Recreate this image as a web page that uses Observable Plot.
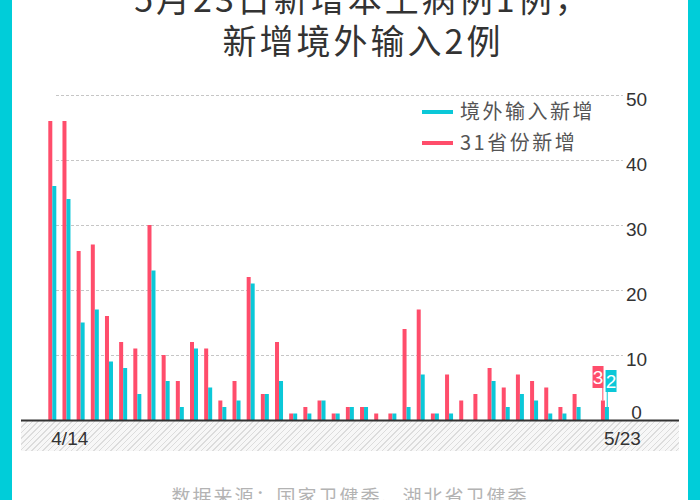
<!DOCTYPE html>
<html>
<head>
<meta charset="utf-8">
<script src="https://cdn.jsdelivr.net/npm/d3@7"></script>
<script src="https://cdn.jsdelivr.net/npm/@observablehq/plot@0.6"></script>
<style>
  body { margin: 0; background: #fff; }
  #page { position: relative; width: 700px; height: 500px; overflow: hidden; background: #fff;
          font-family: "Noto Sans CJK SC", "Noto Sans", sans-serif; }
  .side { position: absolute; top: 0; width: 12px; height: 500px; background: #00cdd9; z-index: 5; }
  #title { margin-top: -23px; text-align: center; font-size: 34px; line-height: 41.5px; color: #333;
           letter-spacing: 3px; padding-left: 26px; }
  #chart { position: relative; width: 700px; height: 400px; }
  #hatch { position: absolute; left: 21px; top: 361px; width: 658px; height: 30px;
           background: repeating-linear-gradient(135deg, #dcdcdc 0 1px, #f7f7f7 1px 4px); }
  #chart svg { position: relative; display: block; }
  .legend-sw { position: absolute; left: 422px; width: 31px; height: 4px; }
  .legend-tx { position: absolute; left: 460px; font-size: 20px; line-height: 20px; color: #555; letter-spacing: 2.5px; white-space: nowrap; }
  #caption { margin-top: 26px; text-align: center; font-size: 19px; line-height: 19px; color: #b3b3b3; letter-spacing: 2px; }
</style>
</head>
<body>
<div id="page">
  <div class="side" style="left:0"></div>
  <div class="side" style="right:0"></div>
  <div id="title"><div>5月23日新增本土病例1例，</div><div>新增境外输入2例</div></div>
  <div id="chart"><div id="hatch"></div></div>
  <div id="caption">数据来源：国家卫健委、湖北省卫健委</div>
  <div id="legend"></div>
</div>
<script>
// ---- data ----
const dates = ["4/14","4/15","4/16","4/17","4/18","4/19","4/20","4/21","4/22","4/23",
               "4/24","4/25","4/26","4/27","4/28","4/29","4/30","5/1","5/2","5/3",
               "5/4","5/5","5/6","5/7","5/8","5/9","5/10","5/11","5/12","5/13",
               "5/14","5/15","5/16","5/17","5/18","5/19","5/20","5/21","5/22","5/23"];
const totalNew = [46,46,26,27,16,12,11,30,10,6,
                  12,11,3,6,22,4,12,1,2,3,
                  1,2,2,1,1,14,17,1,7,3,
                  4,8,5,7,6,5,2,4,0,3];
const importedNew = [36,34,15,17,9,8,4,23,6,2,
                     11,5,2,3,21,4,6,1,1,3,
                     1,2,2,0,1,2,7,1,1,0,
                     0,6,2,4,3,1,1,2,0,2];
const seriesNames = ["境外输入新增", "31省份新增"];
const seriesColors = ["#0bc8d8", "#ff4d6b"];
const yTicks = [0, 10, 20, 30, 40, 50];
const xTickLabels = ["4/14", "5/23"];

const CYAN = seriesColors[0], RED = seriesColors[1];
const rows = dates.map((d, i) => ({date: d, total: totalNew[i], imported: importedNew[i]}));
const last = rows.slice(-1);
const numFont = "Liberation Sans, Noto Sans CJK SC, sans-serif";

const chart = Plot.plot({
  width: 700,
  height: 400,
  marginTop: 35,
  marginBottom: 40,
  marginLeft: 21,
  marginRight: 21,
  style: {background: "transparent", overflow: "visible", fontFamily: numFont},
  x: {type: "band", domain: dates, range: [42.13, 615.1], padding: 0.4354, round: false, axis: null},
  y: {domain: [0, 50], axis: null},
  marks: [
    Plot.ruleY(yTicks.filter(d => d > 0), {
      y: d => d, x1: () => dates[0], x2: () => dates[dates.length - 1],
      stroke: "#c6c6c6", strokeWidth: 1, strokeDasharray: "3,2", insetLeft: 7.7, insetRight: -14
    }),
    Plot.barY(rows, {x: "date", y: "total", fill: RED, insetRight: 4}),
    Plot.barY(rows, {x: "date", y: "imported", fill: CYAN, insetLeft: 4}),
    Plot.ruleY([0], {stroke: "#333", strokeWidth: 2}),
    // y tick labels on the right
    Plot.text(yTicks.filter(d => d > 0), {
      y: d => d, text: d => String(d), frameAnchor: "right", dx: -43, dy: 4,
      textAnchor: "middle", lineAnchor: "middle", fontSize: 19, fill: "#333"
    }),
    Plot.text([0], {
      y: d => d, text: d => String(d), frameAnchor: "right", dx: -43, dy: -7.5,
      textAnchor: "middle", lineAnchor: "middle", fontSize: 19, fill: "#333"
    }),
    // x labels
    Plot.text(xTickLabels, {
      x: d => d, y: 0, text: d => d, dx: -1.5, dy: 18.5,
      textAnchor: "start", lineAnchor: "middle", fontSize: 19, fill: "#333"
    }),
    // callouts for the latest day
    Plot.ruleX(last, {x: "date", y1: "total", y2: "total", stroke: RED, strokeWidth: 1, dx: -2.6, insetTop: -12.5, insetBottom: 0}),
    Plot.ruleX(last, {x: "date", y1: "imported", y2: "imported", stroke: CYAN, strokeWidth: 1, dx: 1.8, insetTop: -15, insetBottom: 0}),
    Plot.ruleX(last, {x: "date", y1: "total", y2: "total", stroke: RED, strokeWidth: 11, dx: -7.4, insetTop: -34.5, insetBottom: 12.5}),
    Plot.ruleX(last, {x: "date", y1: "imported", y2: "imported", stroke: CYAN, strokeWidth: 11, dx: 5.6, insetTop: -37, insetBottom: 15}),
    Plot.text(last, {x: "date", y: "total", text: d => String(d.total), dx: -7.4, dy: -23.5,
      fill: "white", fontSize: 19, lineAnchor: "middle"}),
    Plot.text(last, {x: "date", y: "imported", text: d => String(d.imported), dx: 5.6, dy: -26,
      fill: "white", fontSize: 19, lineAnchor: "middle"})
  ]
});
document.getElementById("chart").appendChild(chart);

// legend (HTML, overlaid at top right of the chart)
const legend = document.getElementById("legend");
const legendTops = [{sw: 110, tx: 101}, {sw: 141, tx: 132}];
seriesNames.forEach((name, i) => {
  const sw = document.createElement("div");
  sw.className = "legend-sw";
  sw.style.top = legendTops[i].sw + "px";
  sw.style.background = seriesColors[i];
  const tx = document.createElement("div");
  tx.className = "legend-tx";
  tx.style.top = legendTops[i].tx + "px";
  tx.textContent = name;
  legend.appendChild(sw);
  legend.appendChild(tx);
});
</script>
</body>
</html>
